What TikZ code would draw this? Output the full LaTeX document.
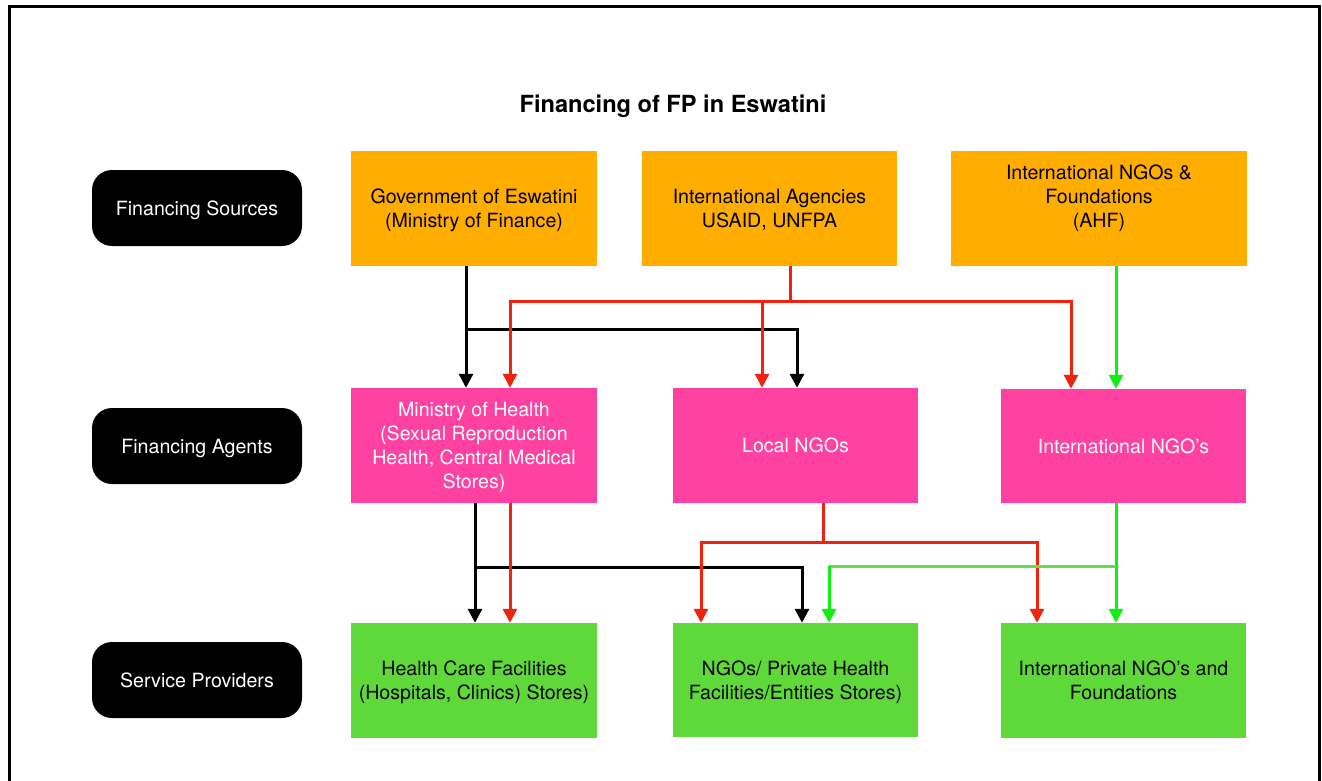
\documentclass[tikz,border=0pt]{standalone}
\usepackage{fontspec}
\setmainfont{TeX Gyre Heros}
\usetikzlibrary{arrows.meta}
\definecolor{orangebox}{HTML}{FFAE00}
\definecolor{pinkbox}{HTML}{FF42A1}
\definecolor{greenbox}{HTML}{5FD93A}
\definecolor{redline}{HTML}{F02310}
\definecolor{greenline}{HTML}{10F010}
\definecolor{lightgreenline}{HTML}{66DD44}
\begin{document}
\begin{tikzpicture}[x=1pt,y=-1pt,
 box/.style={rectangle, inner sep=0pt, align=center, text depth=0pt, font=\fontsize{19.6}{24}\selectfont},
 src/.style={box, fill=orangebox, text=black},
 agent/.style={box, fill=pinkbox, text=white},
 prov/.style={box, fill=greenbox, text=black},
 lbl/.style={box, fill=black, text=white, rounded corners=20pt, minimum width=210pt, minimum height=76pt},
 conn/.style={line width=3pt},
 arr/.style={-{Triangle[width=14pt,length=14pt]}},
 blk/.style={conn, black},
 rd/.style={conn, redline},
 gr/.style={conn, greenline},
 lgr/.style={conn, lightgreenline},
]
\useasboundingbox (0,0) rectangle (1322,781);
\fill[white] (0,0) rectangle (1322,781);
\draw[line width=3pt] (9.5,6.5) rectangle (1319,800);

\node[font=\bfseries\fontsize{23.6}{28}\selectfont, text depth=0pt] (title) at (673,104) {Financing of FP in Eswatini};

% row labels
\node[lbl] (lsrc) at (197,208) {Financing Sources};
\node[lbl] (lagt) at (197,446) {Financing Agents};
\node[lbl] (lprv) at (197,680) {Service Providers};

% sources
\node[src, minimum width=246pt, minimum height=115pt] (gov) at (474,208.5) {Government of Eswatini\\(Ministry of Finance)};
\node[src, minimum width=255pt, minimum height=115pt] (ia) at (769.5,208.5) {International Agencies\\USAID, UNFPA};
\node[src, minimum width=296pt, minimum height=115pt] (ahf) at (1099,208.5) {International NGOs \&\\Foundations\\(AHF)\\\mbox{}};

% agents
\node[agent, minimum width=246pt, minimum height=115pt] (moh) at (474,445.5) {Ministry of Health\\(Sexual Reproduction\\Health, Central Medical\\Stores)};
\node[agent, minimum width=245pt, minimum height=115pt] (lngo) at (795.5,445.5) {Local NGOs};
\node[agent, minimum width=245pt, minimum height=114pt] (ingo) at (1123.5,446) {International NGO’s};

% providers
\node[prov, minimum width=246pt, minimum height=115pt] (hcf) at (474,680.5) {Health Care Facilities\\(Hospitals, Clinics) Stores)};
\node[prov, minimum width=245pt, minimum height=114pt] (npriv) at (795.5,680) {NGOs/ Private Health\\Facilities/Entities Stores)};
\node[prov, minimum width=245pt, minimum height=115pt] (ingof) at (1123.5,680.5) {International NGO’s and\\Foundations};

% --- sources to agents ---
\draw[blk,arr] ([xshift=-8pt]gov.south) -- ([xshift=-8pt]moh.north);
\path ([xshift=-8pt]gov.south) ++(0,63) coordinate (bj1);
\draw[blk,arr] (bj1) -| ([xshift=1.5pt]lngo.north);

\draw[rd] ([xshift=20.5pt]ia.south) -- ++(0,35) coordinate (rj1);
\draw[rd,arr] (rj1) -| ([xshift=36pt]moh.north);
\draw[rd,arr] (rj1) -| ([xshift=-52.5pt]ingo.north);
\coordinate (rl) at ([xshift=-33.5pt]lngo.north);
\draw[rd,arr] (rj1 -| rl) -- (rl);

\draw[gr,arr] ([xshift=17pt]ahf.south) -- ([xshift=-7.5pt]ingo.north);

% --- agents to providers ---
\draw[blk,arr] ([xshift=1pt]moh.south) -- ([xshift=1pt]hcf.north);
\path ([xshift=1pt]moh.south) ++(0,64) coordinate (bj2);
\draw[blk,arr] (bj2) -| ([xshift=6.5pt]npriv.north);
\draw[rd,arr] ([xshift=36pt]moh.south) -- ([xshift=36pt]hcf.north);

\draw[rd] ([xshift=27.5pt]lngo.south) -- ++(0,39) coordinate (rj2);
\draw[rd,arr] (rj2) -| ([xshift=-94.5pt]npriv.north);
\draw[rd,arr] (rj2) -| ([xshift=-86.5pt]ingof.north);

\draw[gr,arr] ([xshift=-7.5pt]ingo.south) -- ([xshift=-7.5pt]ingof.north);
\path ([xshift=-7.5pt]ingo.south) ++(0,63) coordinate (gj);
\coordinate (npg) at ([xshift=33.5pt]npriv.north);
\draw[lgr] (gj) -- (gj -| npg);
\draw[gr,arr] (gj -| npg) -- (npg);
\end{tikzpicture}
\end{document}
